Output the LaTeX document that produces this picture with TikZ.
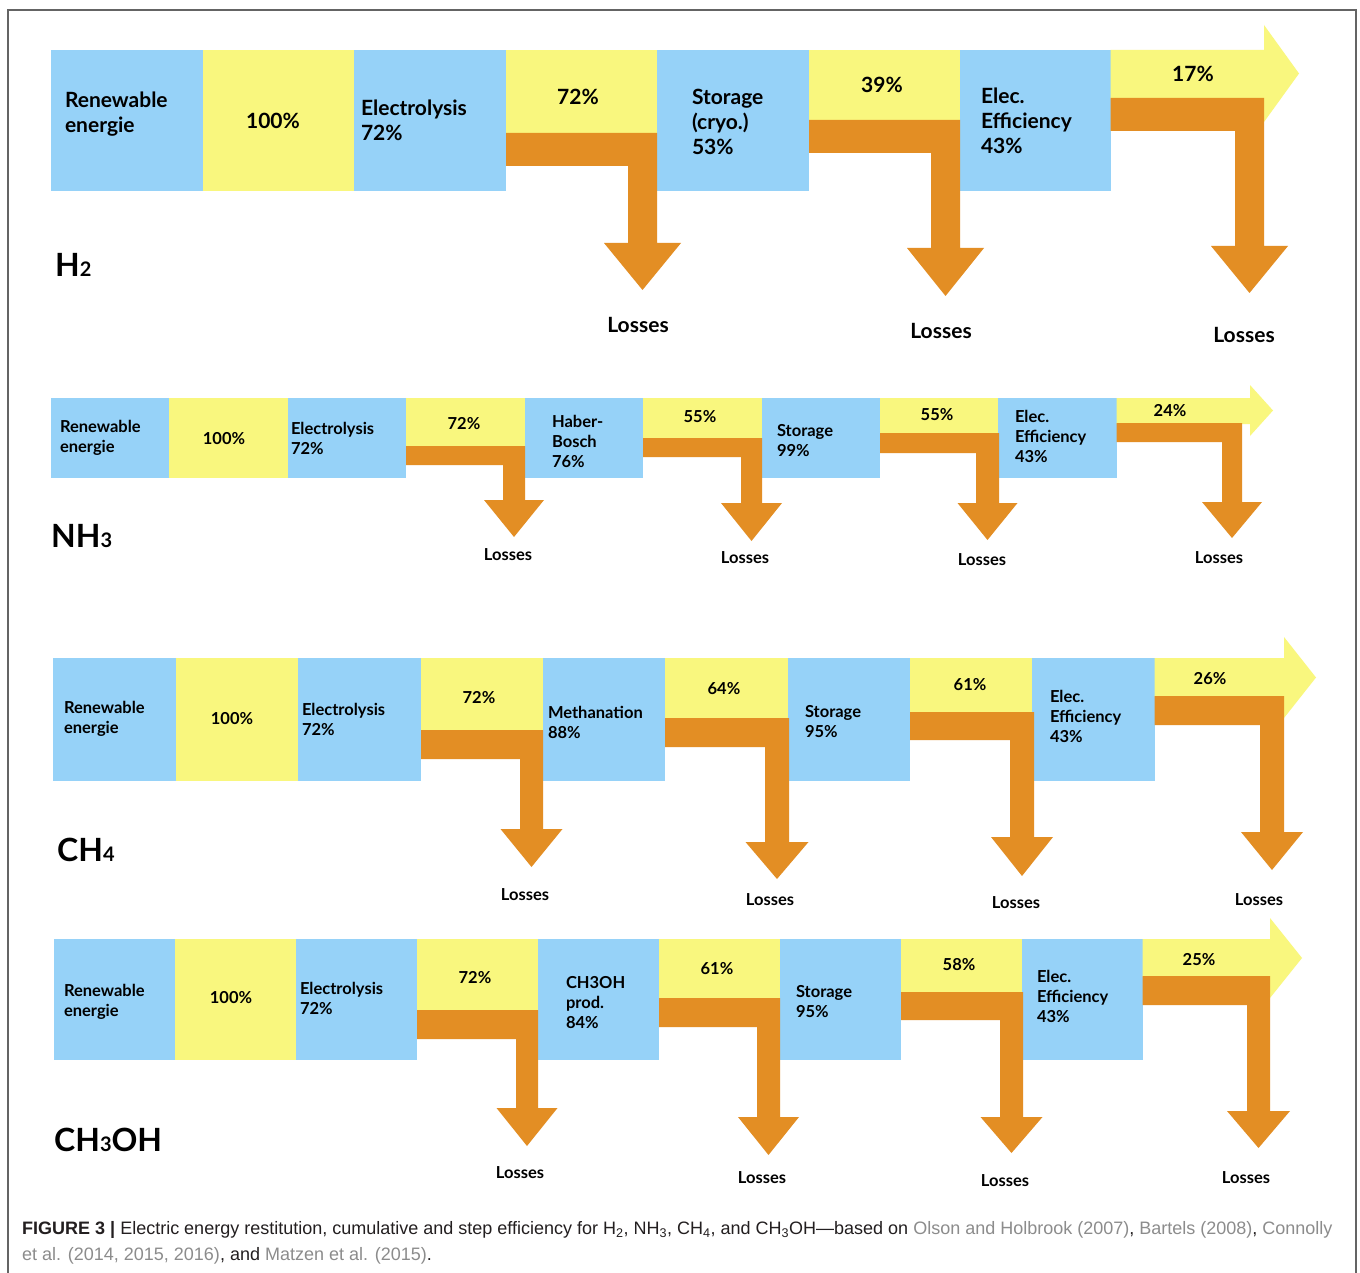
\documentclass[tikz,border=0pt]{standalone}
\usepackage{fontspec}
\newfontfamily\diafont{Lato}
\newfontfamily\capfont[Ligatures=TeX]{Liberation Sans}
\definecolor{blueC}{RGB}{150,210,248}
\definecolor{yelC}{RGB}{249,247,126}
\definecolor{lossC}{RGB}{227,142,36}
\definecolor{refC}{RGB}{140,140,140}
\definecolor{capC}{RGB}{35,31,32}
\definecolor{frameC}{RGB}{100,100,100}
\newcommand\cell[6]{%
  \node[cellbox, fill=#2, minimum width={(#4-#3+0.6)*1pt}, minimum height={(#6-#5)*1pt}] (#1) at ({(#3+#4)/2},{(#5+#6)/2}) {};}
\newcommand\lossarr[8]{%
  \fill[lossC] (#1,#3) -- (#2,#3) -- (#2,#6) -- ({#2-#5/2+#7},#6) -- ({#2-#5/2},#8) -- ({#2-#5/2-#7},#6) -- ({#2-#5},#6) -- ({#2-#5},#4) -- (#1,#4) -- cycle;}
\newcommand\outarr[7]{%
  \fill[yelC] (#1,#3) -- (#2,#3) -- (#2,#5) -- (#7,{(#5+#6)/2}) -- (#2,#6) -- (#2,#4) -- (#1,#4) -- cycle;}
\begin{document}
\begin{tikzpicture}[x=1pt,y=-1pt,
  cellbox/.style={rectangle, draw=none, inner sep=0pt, outer sep=0pt},
  big/.style={font=\diafont\bfseries\fontsize{21}{25}\selectfont},
  small/.style={font=\diafont\bfseries\fontsize{16.5}{20}\selectfont},
  txt/.style={inner sep=0pt, outer sep=0pt, align=left, anchor=west, text=black},
  pct/.style={inner sep=0pt, outer sep=0pt, text=black},
  rowlbl/.style={inner sep=0pt, anchor=west, font=\diafont\bfseries\fontsize{32}{32}\selectfont}]
\useasboundingbox (0,0) rectangle (1360,1273);
\fill[white] (0,0) rectangle (1360,1273);
\draw[frameC, line width=1.2pt] (8,1280) -- (8,10) -- (1356,10) -- (1356,1280);

% ================= H2 =================
\cell{h2a}{blueC}{51}{203}{50}{191}
\cell{h2b}{yelC}{203}{354}{50}{191}
\cell{h2c}{blueC}{354}{506}{50}{191}
\cell{h2d}{yelC}{506}{657}{50}{133.5}
\cell{h2e}{blueC}{657}{809}{50}{191}
\cell{h2f}{yelC}{809}{960}{50}{120.5}
\cell{h2g}{blueC}{960}{1111}{50}{191}
\outarr{1110.5}{1264}{50}{99}{25}{122}{1299}
\lossarr{506}{657}{133}{166}{29}{243}{38.5}{290}
\lossarr{809}{960}{120}{153}{29}{248}{38.5}{296}
\lossarr{1110.5}{1264}{98}{131}{29}{246}{38.5}{293}
\node[txt,big] (h2ta) at (65,114.5) {Renewable\\energie};
\node[pct,big] (h2tb) at (273,121) {100\%};
\node[txt,big] (h2tc) at (361,120.5) {Electrolysis\\72\%};
\node[pct,big] (h2td) at (578,97) {72\%};
\node[txt,big] (h2te) at (692,121.5) {Storage\\(cryo.)\\53\%};
\node[pct,big] (h2tf) at (882,85) {39\%};
\node[txt,big] (h2tg) at (981,120.5) {Elec.\\Efficiency\\43\%};
\node[pct,big] (h2th) at (1193,74) {17\%};
\node[pct,big] (h2l1) at (638,325) {Losses};
\node[pct,big] (h2l2) at (941,331) {Losses};
\node[pct,big] (h2l3) at (1244,335) {Losses};
\node[rowlbl] (h2lbl) at (55,265) {H{\fontsize{20}{20}\selectfont 2}};

% ================= NH3 =================
\cell{n1}{blueC}{51}{169.5}{398}{478}
\cell{n2}{yelC}{169.5}{288}{398}{478}
\cell{n3}{blueC}{288}{406}{398}{478}
\cell{n4}{yelC}{406}{525}{398}{446.5}
\cell{n5}{blueC}{525}{643}{398}{478}
\cell{n6}{yelC}{643}{762}{398}{438.5}
\cell{n7}{blueC}{762}{880}{398}{478}
\cell{n8}{yelC}{880}{998}{398}{433.5}
\cell{n9}{blueC}{998}{1117}{398}{478}
\outarr{1116.5}{1250}{398}{424}{385}{436}{1273}
\lossarr{406}{525}{446}{465}{22}{500}{30}{537}
\lossarr{643}{762}{438}{457}{21}{503}{30.5}{541}
\lossarr{880}{999}{433}{453}{23}{503}{30}{540}
\lossarr{1116.5}{1242}{423}{442}{20}{502}{30}{538}
\node[txt,small] (nta) at (60,437.5) {Renewable\\energie};
\node[pct,small] (ntb) at (224,439) {100\%};
\node[txt,small] (ntc) at (291,438.5) {Electrolysis\\72\%};
\node[pct,small] (ntd) at (464,424) {72\%};
\node[txt,small] (nte) at (552,441) {Haber-\\Bosch\\76\%};
\node[pct,small] (ntf) at (700,417) {55\%};
\node[txt,small] (ntg) at (777,440.5) {Storage\\99\%};
\node[pct,small] (nth) at (937,415) {55\%};
\node[txt,small] (nti) at (1015,436.5) {Elec.\\Efficiency\\43\%};
\node[pct,small] (ntj) at (1170,411) {24\%};
\node[pct,small] (nl1) at (508,555) {Losses};
\node[pct,small] (nl2) at (745,558) {Losses};
\node[pct,small] (nl3) at (982,560) {Losses};
\node[pct,small] (nl4) at (1219,558) {Losses};
\node[rowlbl] (nh3lbl) at (51,536) {NH{\fontsize{20}{20}\selectfont 3}};

% ================= CH4 =================
\cell{c1}{blueC}{53}{176}{658}{781}
\cell{c2}{yelC}{176}{298}{658}{781}
\cell{c3}{blueC}{298}{421}{658}{781}
\cell{c4}{yelC}{421}{543}{658}{730.5}
\cell{c5}{blueC}{543}{665}{658}{781}
\cell{c6}{yelC}{665}{788}{658}{718.5}
\cell{c7}{blueC}{788}{910}{658}{781}
\cell{c8}{yelC}{910}{1032}{658}{712.5}
\cell{c9}{blueC}{1032}{1155}{658}{781}
\outarr{1154.5}{1284}{658}{697}{637}{718}{1316}
\lossarr{421}{543}{730}{759}{23}{829}{31}{867}
\lossarr{665}{789}{718}{747}{24}{842}{31.5}{879}
\lossarr{910}{1034}{712}{740}{24}{837}{31}{876}
\lossarr{1154.5}{1284}{696}{725}{24}{832}{31}{870}
\node[txt,small] (cta) at (64,719) {Renewable\\energie};
\node[pct,small] (ctb) at (232,719) {100\%};
\node[txt,small] (ctc) at (302,719) {Electrolysis\\72\%};
\node[pct,small] (ctd) at (479,698) {72\%};
\node[txt,small] (cte) at (548,722) {Methanation\\88\%};
\node[pct,small] (ctf) at (724,689) {64\%};
\node[txt,small] (ctg) at (805,722) {Storage\\95\%};
\node[pct,small] (cth) at (970,685) {61\%};
\node[txt,small] (cti) at (1050,716) {Elec.\\Efficiency\\43\%};
\node[pct,small] (ctj) at (1210,679) {26\%};
\node[pct,small] (cl1) at (525,895) {Losses};
\node[pct,small] (cl2) at (770,900) {Losses};
\node[pct,small] (cl3) at (1016,903) {Losses};
\node[pct,small] (cl4) at (1259,900) {Losses};
\node[rowlbl] (ch4lbl) at (57,850) {CH{\fontsize{20}{20}\selectfont 4}};

% ================= CH3OH =================
\cell{m1}{blueC}{54}{175}{939}{1060}
\cell{m2}{yelC}{175}{296}{939}{1060}
\cell{m3}{blueC}{296}{417}{939}{1060}
\cell{m4}{yelC}{417}{538}{939}{1010.5}
\cell{m5}{blueC}{538}{659}{939}{1060}
\cell{m6}{yelC}{659}{780}{939}{998.5}
\cell{m7}{blueC}{780}{901}{939}{1060}
\cell{m8}{yelC}{901}{1022}{939}{992.5}
\cell{m9}{blueC}{1022}{1143}{939}{1060}
\outarr{1142.5}{1270}{939}{977}{918}{998}{1302}
\lossarr{417}{538}{1010}{1039}{22}{1108}{30.5}{1146}
\lossarr{659}{780}{998}{1027}{23}{1117}{30.5}{1155}
\lossarr{901}{1023}{992}{1020}{23}{1117}{31}{1153}
\lossarr{1142.5}{1270}{976}{1005}{23}{1111}{31.5}{1148}
\node[txt,small] (mta) at (64,1002) {Renewable\\energie};
\node[pct,small] (mtb) at (231,998) {100\%};
\node[txt,small] (mtc) at (300,998) {Electrolysis\\72\%};
\node[pct,small] (mtd) at (475,978) {72\%};
\node[txt,small] (mte) at (566,1003) {CH3OH\\prod.\\84\%};
\node[pct,small] (mtf) at (717,969) {61\%};
\node[txt,small] (mtg) at (796,1002) {Storage\\95\%};
\node[pct,small] (mth) at (959,965) {58\%};
\node[txt,small] (mti) at (1037,996) {Elec.\\Efficiency\\43\%};
\node[pct,small] (mtj) at (1199,960) {25\%};
\node[pct,small] (ml1) at (520,1173) {Losses};
\node[pct,small] (ml2) at (762,1178) {Losses};
\node[pct,small] (ml3) at (1005,1181) {Losses};
\node[pct,small] (ml4) at (1246,1178) {Losses};
\node[rowlbl] (ch3ohlbl) at (54,1140) {CH{\fontsize{20}{20}\selectfont 3}OH};

% ================= caption =================
\node[inner sep=0pt, anchor=west, text=capC, font=\capfont\fontsize{18}{21}\selectfont] (cap1) at (22,1230)
  {\textbf{FIGURE 3 |} Electric energy restitution, cumulative and step efficiency for H\textsubscript{2}, NH\textsubscript{3}, CH\textsubscript{4}, and CH\textsubscript{3}OH—based on \textcolor{refC}{Olson and Holbrook (2007)}, \textcolor{refC}{Bartels (2008)}, \textcolor{refC}{Connolly}};
\node[inner sep=0pt, anchor=west, text=capC, font=\capfont\fontsize{18}{21}\selectfont] (cap2) at (22,1256)
  {\textcolor{refC}{et al. (2014, 2015, 2016)}, and \textcolor{refC}{Matzen et al. (2015)}.};
\end{tikzpicture}
\end{document}
